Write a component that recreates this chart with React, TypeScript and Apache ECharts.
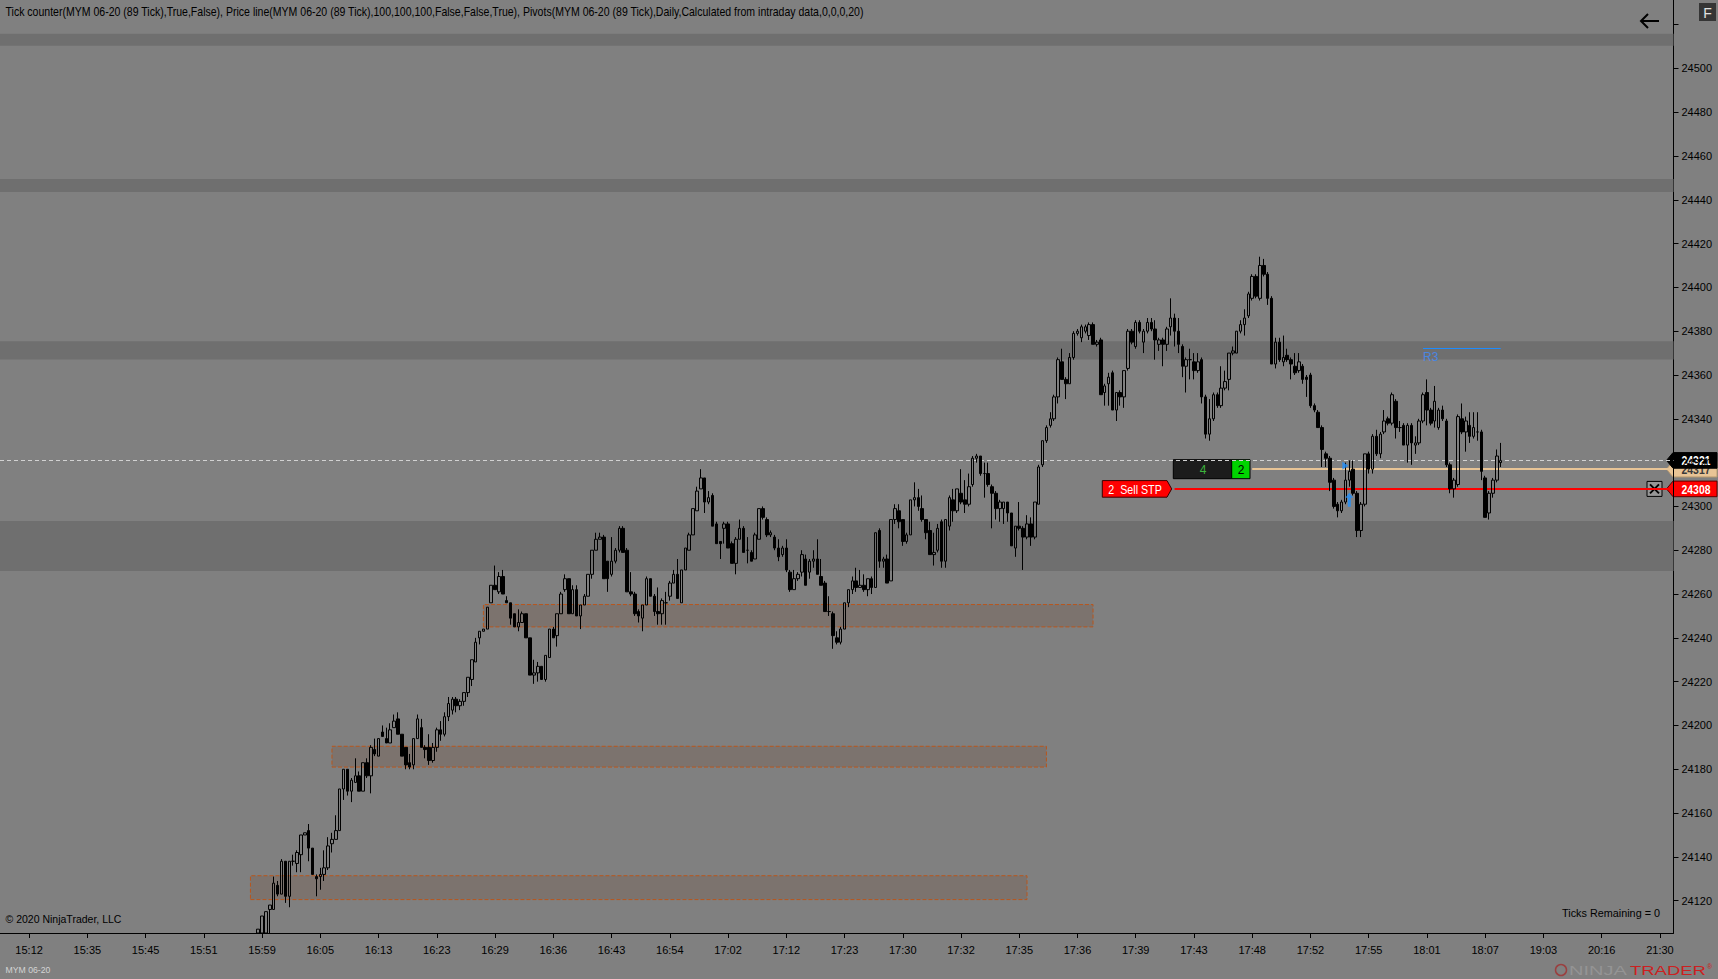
import { useEffect, useRef } from 'react';
import * as echarts from 'echarts';

const W = 1718;
const H = 979;
const FONT = '"Liberation Sans", Arial, sans-serif';

// x axis: one slot per 89-tick bar, a time label every 15 slots
const timeLabels = [
  '15:12', '15:35', '15:45', '15:51', '15:59', '16:05', '16:13', '16:23', '16:29', '16:36',
  '16:43', '16:54', '17:02', '17:12', '17:23', '17:30', '17:32', '17:35', '17:36', '17:39',
  '17:43', '17:48', '17:52', '17:55', '18:01', '18:07', '19:03', '20:16', '21:30',
];
const SLOT_COUNT = 431;
const FIRST_LABEL_SLOT = 7;
const LABEL_STEP = 15;
const FIRST_BAR_SLOT = 66;

const yTickLabels = [
  24120, 24140, 24160, 24180, 24200, 24220, 24240, 24260, 24280, 24300,
  24320, 24340, 24360, 24380, 24400, 24420, 24440, 24460, 24480, 24500,
];
const yTickMarks = [...yTickLabels, 24520];
const Y_MIN = 24105.25;
const Y_MAX = 24531.2;

// [open, close, low, high]
const bars: number[][] = [
  [24100, 24107, 24095, 24107], [24104, 24113, 24100, 24113], [24104, 24115, 24100, 24115], [24116, 24118, 24105, 24118],
  [24116, 24128, 24116, 24131], [24127, 24123, 24122, 24129], [24123, 24138, 24123, 24139], [24138, 24122, 24119, 24138],
  [24122, 24138, 24117, 24138], [24138, 24138, 24136, 24141], [24137, 24142, 24133, 24143], [24141, 24150, 24133, 24150],
  [24150, 24151, 24150, 24151], [24152, 24144, 24138, 24155], [24144, 24132, 24132, 24144], [24131, 24130, 24122, 24132],
  [24131, 24132, 24125, 24135], [24132, 24135, 24129, 24143], [24135, 24145, 24134, 24149], [24146, 24148, 24142, 24151],
  [24148, 24152, 24148, 24159], [24152, 24171, 24152, 24171], [24171, 24180, 24166, 24180], [24180, 24170, 24168, 24180],
  [24170, 24175, 24165, 24176], [24174, 24177, 24174, 24185], [24177, 24170, 24170, 24179], [24170, 24183, 24170, 24183],
  [24183, 24177, 24176, 24185], [24177, 24190, 24169, 24191], [24189, 24187, 24186, 24194], [24186, 24194, 24186, 24194],
  [24197, 24195, 24195, 24200], [24194, 24192, 24192, 24199], [24192, 24198, 24192, 24201], [24199, 24202, 24199, 24205],
  [24203, 24196, 24196, 24206], [24196, 24186, 24186, 24196], [24190, 24182, 24180, 24190], [24183, 24181, 24180, 24187],
  [24182, 24194, 24180, 24194], [24194, 24203, 24194, 24205], [24199, 24190, 24190, 24203], [24190, 24189, 24185, 24191],
  [24190, 24184, 24182, 24196], [24184, 24190, 24183, 24192], [24190, 24198, 24188, 24199], [24198, 24196, 24193, 24202],
  [24196, 24204, 24195, 24206], [24204, 24210, 24202, 24213],
  // 51
  [24207, 24212, 24205, 24213], [24212, 24209, 24206, 24213], [24209, 24211, 24207, 24212], [24211, 24215, 24209, 24215],
  [24215, 24222, 24213, 24222], [24221, 24230, 24218, 24230], [24229, 24238, 24229, 24240], [24240, 24243, 24237, 24243],
  [24243, 24244, 24243, 24244], [24244, 24254, 24244, 24254], [24256, 24264, 24256, 24264], [24264, 24262, 24262, 24273],
  [24261, 24268, 24260, 24270], [24268, 24260, 24260, 24271], [24257, 24256, 24256, 24259], [24256, 24249, 24246, 24256],
  [24251, 24245, 24245, 24251], [24245, 24247, 24243, 24253], [24247, 24251, 24247, 24252], [24251, 24240, 24240, 24251],
  [24240, 24223, 24223, 24240], [24223, 24224, 24219, 24230], [24224, 24227, 24220, 24229], [24227, 24221, 24221, 24227],
  [24221, 24232, 24220, 24232], [24231, 24244, 24231, 24244], [24244, 24240, 24240, 24245], [24241, 24251, 24236, 24251],
  [24251, 24260, 24251, 24261], [24262, 24267, 24261, 24269], [24267, 24251, 24251, 24267], [24251, 24262, 24251, 24264],
  [24262, 24250, 24250, 24264], [24250, 24255, 24244, 24255], [24255, 24259, 24255, 24260], [24259, 24269, 24259, 24269],
  [24269, 24280, 24267, 24280], [24280, 24285, 24280, 24288], [24285, 24286, 24285, 24288], [24286, 24267, 24267, 24287],
  [24275, 24267, 24261, 24275],
  // 92
  [24269, 24275, 24268, 24286], [24275, 24280, 24274, 24281], [24280, 24290, 24279, 24291], [24290, 24279, 24279, 24291],
  [24280, 24261, 24261, 24281], [24261, 24260, 24259, 24270], [24260, 24251, 24250, 24261], [24252, 24250, 24247, 24253],
  [24249, 24255, 24243, 24255], [24255, 24267, 24255, 24268], [24267, 24259, 24259, 24267], [24259, 24252, 24250, 24260],
  [24252, 24251, 24246, 24263], [24251, 24257, 24246, 24258], [24256, 24256, 24246, 24261], [24259, 24265, 24257, 24266],
  [24265, 24269, 24265, 24271], [24269, 24258, 24258, 24276], [24256, 24271, 24256, 24271], [24271, 24281, 24271, 24281],
  [24280, 24287, 24280, 24288], [24287, 24299, 24287, 24299], [24298, 24307, 24298, 24309], [24308, 24313, 24308, 24317],
  [24313, 24302, 24297, 24313], [24302, 24304, 24301, 24307], [24305, 24291, 24291, 24306], [24292, 24283, 24283, 24293],
  [24284, 24283, 24276, 24284], [24290, 24292, 24283, 24293], [24292, 24281, 24281, 24293], [24283, 24274, 24274, 24284],
  [24274, 24285, 24269, 24286], [24285, 24290, 24285, 24294], [24290, 24279, 24279, 24291], [24280, 24280, 24274, 24286],
  [24279, 24275, 24275, 24280], [24276, 24287, 24276, 24288], [24285, 24299, 24285, 24299], [24299, 24295, 24294, 24300],
  [24294, 24287, 24286, 24295], [24287, 24288, 24286, 24289], [24286, 24281, 24280, 24287], [24281, 24277, 24275, 24285],
  [24278, 24281, 24277, 24282], [24281, 24271, 24270, 24285], [24270, 24262, 24261, 24271],
  // 139
  [24262, 24267, 24262, 24271], [24267, 24269, 24266, 24270], [24270, 24278, 24268, 24280], [24276, 24264, 24264, 24278],
  [24270, 24275, 24267, 24276], [24275, 24276, 24272, 24280], [24276, 24269, 24269, 24285], [24268, 24264, 24264, 24276],
  [24265, 24252, 24252, 24266], [24252, 24252, 24250, 24259], [24251, 24241, 24235, 24252], [24240, 24238, 24237, 24243],
  [24238, 24244, 24237, 24245], [24244, 24256, 24244, 24256], [24256, 24262, 24254, 24262], [24262, 24266, 24260, 24268],
  [24266, 24263, 24261, 24272], [24263, 24264, 24263, 24271], [24264, 24262, 24261, 24269], [24262, 24267, 24259, 24267],
  [24267, 24263, 24260, 24268], [24263, 24288, 24263, 24288], [24289, 24275, 24272, 24290], [24275, 24276, 24272, 24277],
  [24276, 24265, 24265, 24278], [24266, 24294, 24266, 24294], [24294, 24299, 24292, 24301], [24298, 24293, 24290, 24301],
  [24294, 24284, 24282, 24294], [24284, 24287, 24283, 24288], [24287, 24303, 24287, 24303], [24303, 24304, 24300, 24311],
  [24304, 24300, 24298, 24308], [24299, 24294, 24293, 24305], [24294, 24288, 24285, 24294], [24289, 24278, 24278, 24293],
  [24278, 24279, 24273, 24288], [24280, 24290, 24279, 24292], [24293, 24275, 24272, 24294], [24275, 24294, 24272, 24294],
  [24291, 24304, 24289, 24305], [24303, 24298, 24293, 24308], [24298, 24308, 24297, 24308], [24306, 24302, 24301, 24317],
  [24303, 24301, 24297, 24312], [24301, 24309, 24300, 24315],
  // 185
  [24310, 24322, 24309, 24323], [24322, 24323, 24320, 24324], [24323, 24315, 24314, 24323], [24315, 24315, 24304, 24320],
  [24315, 24310, 24309, 24320], [24309, 24306, 24290, 24310], [24306, 24299, 24294, 24307], [24299, 24302, 24293, 24303],
  [24299, 24302, 24292, 24302], [24302, 24297, 24293, 24302], [24297, 24282, 24282, 24297], [24281, 24291, 24277, 24291],
  [24291, 24290, 24289, 24302], [24290, 24286, 24271, 24291], [24286, 24292, 24285, 24296], [24292, 24286, 24282, 24295],
  [24286, 24302, 24285, 24302], [24301, 24318, 24301, 24319], [24319, 24330, 24318, 24330], [24330, 24336, 24329, 24337],
  [24337, 24340, 24336, 24343], [24340, 24350, 24339, 24351], [24350, 24367, 24347, 24368], [24366, 24358, 24358, 24372],
  [24358, 24356, 24349, 24359], [24356, 24368, 24356, 24370], [24368, 24379, 24367, 24380], [24379, 24380, 24378, 24381],
  [24377, 24382, 24375, 24383], [24380, 24382, 24379, 24383], [24378, 24383, 24376, 24384], [24383, 24374, 24374, 24384],
  [24374, 24375, 24373, 24376], [24376, 24351, 24351, 24377], [24352, 24355, 24346, 24356], [24356, 24359, 24346, 24361],
  [24361, 24344, 24344, 24362], [24344, 24352, 24339, 24352], [24352, 24350, 24346, 24353], [24350, 24362, 24345, 24362],
  [24363, 24380, 24362, 24381], [24380, 24375, 24374, 24381], [24373, 24384, 24372, 24385], [24384, 24380, 24379, 24385],
  [24375, 24380, 24370, 24381], [24380, 24384, 24379, 24386], [24384, 24381, 24380, 24386],
  // 232
  [24381, 24376, 24367, 24385], [24374, 24376, 24371, 24377], [24376, 24374, 24364, 24377], [24374, 24381, 24371, 24382],
  [24382, 24386, 24378, 24395], [24386, 24380, 24373, 24388], [24380, 24374, 24370, 24386], [24373, 24364, 24359, 24374],
  [24364, 24367, 24352, 24368], [24367, 24367, 24358, 24372], [24366, 24362, 24358, 24370], [24362, 24366, 24361, 24370],
  [24367, 24350, 24347, 24368], [24350, 24333, 24331, 24351], [24333, 24340, 24330, 24349], [24340, 24351, 24339, 24352],
  [24351, 24346, 24345, 24352], [24346, 24354, 24345, 24364], [24354, 24357, 24353, 24362], [24358, 24370, 24353, 24370],
  [24370, 24371, 24369, 24373], [24370, 24380, 24370, 24380], [24380, 24383, 24379, 24385], [24383, 24386, 24378, 24390],
  [24387, 24397, 24386, 24398], [24395, 24405, 24394, 24406], [24405, 24396, 24395, 24406], [24395, 24410, 24394, 24414],
  [24410, 24406, 24405, 24413], [24406, 24395, 24392, 24407], [24395, 24365, 24365, 24396], [24365, 24375, 24363, 24377],
  [24375, 24367, 24366, 24377], [24366, 24368, 24364, 24378], [24369, 24367, 24366, 24372], [24367, 24365, 24358, 24368],
  [24364, 24361, 24360, 24370], [24362, 24366, 24361, 24370], [24364, 24358, 24356, 24365], [24359, 24358, 24350, 24360],
  [24360, 24346, 24345, 24361], [24346, 24344, 24343, 24347], [24343, 24336, 24336, 24344], [24336, 24326, 24318, 24337],
  [24324, 24322, 24318, 24325], [24322, 24311, 24307, 24323],
  // 278
  [24312, 24300, 24299, 24313], [24301, 24298, 24295, 24302], [24298, 24302, 24297, 24303], [24302, 24312, 24301, 24320],
  [24312, 24316, 24309, 24321], [24317, 24306, 24305, 24321], [24306, 24289, 24286, 24307], [24289, 24301, 24286, 24302],
  [24301, 24324, 24300, 24324], [24324, 24317, 24315, 24325], [24317, 24332, 24315, 24333], [24332, 24324, 24323, 24335],
  [24324, 24333, 24322, 24334], [24334, 24339, 24333, 24344], [24340, 24338, 24337, 24341], [24338, 24351, 24337, 24352],
  [24348, 24336, 24331, 24349], [24336, 24336, 24334, 24339], [24337, 24328, 24328, 24338], [24328, 24337, 24320, 24338],
  [24337, 24329, 24319, 24338], [24328, 24329, 24324, 24332], [24329, 24339, 24328, 24340], [24339, 24351, 24338, 24352],
  [24352, 24344, 24337, 24358], [24344, 24338, 24337, 24345], [24339, 24348, 24336, 24355], [24336, 24344, 24335, 24345],
  [24344, 24340, 24339, 24346], [24339, 24319, 24318, 24340], [24319, 24308, 24306, 24320], [24308, 24312, 24304, 24313],
  [24310, 24341, 24309, 24342], [24340, 24334, 24333, 24347], [24334, 24339, 24325, 24341], [24337, 24332, 24329, 24343],
  [24332, 24336, 24331, 24343], [24334, 24334, 24330, 24343], [24334, 24316, 24312, 24335], [24313, 24295, 24295, 24314],
  [24297, 24306, 24294, 24307], [24306, 24312, 24304, 24313], [24312, 24323, 24311, 24326], [24320, 24321, 24318, 24329],
];

// pivot bands [low, high]
const pivotBands = [
  [24510.3, 24515.8],
  [24443.5, 24449.5],
  [24367.1, 24375.4],
  [24270.5, 24293.3],
];

// dashed zones: slot range and price range
const zones = [
  { from: 64, to: 264, low: 24120.5, high: 24131.4 },
  { from: 85, to: 269, low: 24181, high: 24190.5 },
  { from: 124, to: 281, low: 24245, high: 24255.2 },
];

const r3 = { price: 24372, from: 366, to: 386 };
const lastPrice = 24321;
const entryPrice = 24317;
const stopPrice = 24308;
const entrySlot = 322;
const stopSlot = 302;

// execution marks: bar number (1-based) and price
const executions = [
  { bar: 281, price: 24318.6, kind: 'entry' },
  { bar: 282, price: 24303, kind: 'fill' },
];

const categories = Array.from({ length: SLOT_COUNT }, (_, i) => {
  const k = (i - FIRST_LABEL_SLOT) / LABEL_STEP;
  return i >= FIRST_LABEL_SLOT && Number.isInteger(k) && k < timeLabels.length ? timeLabels[k] : '';
});
const isLabelSlot = (i: number) => categories[i] !== '';

const measureCtx = typeof document !== 'undefined' ? document.createElement('canvas').getContext('2d') : null;
function fitScale(text: string, font: string, width: number) {
  if (!measureCtx) return 1;
  measureCtx.font = font;
  const w = measureCtx.measureText(text).width;
  return w > 0 ? width / w : 1;
}

function label(text: string, x: number, y: number, font: string, fill: string, align: string, width?: number) {
  return {
    type: 'text',
    x,
    y,
    scaleX: width ? fitScale(text, font, width) : 1,
    silent: true,
    style: { text, font, fill, textAlign: align, textVerticalAlign: 'middle', align, verticalAlign: 'middle' },
  };
}

function priceTag(cy: number, fill: string, stroke: string, text: string, color: string) {
  return [
    {
      type: 'polygon',
      silent: true,
      shape: { points: [[1666.5, cy], [1673, cy - 7.8], [1717, cy - 7.8], [1717, cy + 7.8], [1673, cy + 7.8]] },
      style: { fill, stroke, lineWidth: 1 },
    },
    label(text, 1696, cy + 0.5, `bold 12px ${FONT}`, color, 'center', 29),
  ];
}

// the chart bottom cuts the first bars off, as the platform does
const clampY = (v: number) => Math.min(Y_MAX, Math.max(Y_MIN, v));

function buildOption() {
  const candleData = bars.map((b, i) => [
    FIRST_BAR_SLOT + i,
    clampY(b[0]),
    clampY(b[1]),
    clampY(Math.min(b[2], b[0], b[1])),
    clampY(Math.max(b[3], b[0], b[1])),
  ]);

  return {
    animation: false,
    backgroundColor: '#808080',
    grid: { left: 0, right: 44.5, top: 0, bottom: 46 },
    xAxis: {
      type: 'category',
      data: categories,
      boundaryGap: true,
      axisLine: { show: true, lineStyle: { color: '#000', width: 1 } },
      axisTick: { show: true, interval: (i: number) => isLabelSlot(i), alignWithLabel: true, length: 5, lineStyle: { color: '#000' } },
      axisLabel: { interval: (i: number) => isLabelSlot(i), color: '#000', fontSize: 11, fontFamily: FONT, margin: 11 },
      splitLine: { show: false },
    },
    yAxis: {
      type: 'value',
      position: 'right',
      min: Y_MIN,
      max: Y_MAX,
      axisLine: { show: true, lineStyle: { color: '#000', width: 1 } },
      axisTick: { show: true, length: 5, customValues: yTickMarks, lineStyle: { color: '#000' } },
      axisLabel: {
        customValues: yTickLabels,
        color: '#000',
        fontSize: 11,
        fontFamily: FONT,
        margin: 8,
        formatter: (v: number) => String(Math.round(v)),
      },
      splitLine: { show: false },
    },
    series: [
      {
        type: 'line',
        data: [],
        z: 1,
        silent: true,
        markArea: {
          silent: true,
          data: [
            ...pivotBands.map(([lo, hi]) => [
              { yAxis: lo, itemStyle: { color: '#6f6f6f', borderWidth: 0 } },
              { yAxis: hi },
            ]),
            ...zones.map((z) => [
              {
                coord: [z.from, z.low],
                itemStyle: { color: 'rgba(110, 70, 45, 0.22)', borderColor: '#b8561c', borderWidth: 1, borderType: 'dashed' },
              },
              { coord: [z.to, z.high] },
            ]),
          ],
        },
        markLine: {
          silent: true,
          symbol: ['none', 'none'],
          data: [
            {
              yAxis: lastPrice,
              label: { show: false },
              lineStyle: { color: '#d2d2d2', width: 1, type: [4, 3] },
            },
          ],
        },
      },
      {
        type: 'candlestick',
        z: 5,
        clip: true,
        barWidth: 3,
        encode: { x: 0, y: [1, 2, 3, 4] },
        data: candleData,
        itemStyle: {
          color: 'rgba(0,0,0,0)',
          color0: '#000',
          borderColor: '#000',
          borderColor0: '#000',
          borderWidth: 1,
        },
      },
      {
        type: 'line',
        data: [],
        z: 6,
        silent: true,
        markLine: {
          silent: true,
          symbol: ['none', 'none'],
          data: [
            [
              {
                coord: [r3.from, r3.price],
                lineStyle: { color: '#1e8cff', width: 1, type: 'solid' },
                label: {
                  show: true,
                  position: 'insideStartBottom',
                  formatter: 'R3',
                  color: '#4a86e0',
                  fontSize: 12,
                  fontFamily: FONT,
                  distance: [0, 2],
                },
              },
              { coord: [r3.to, r3.price] },
            ],
            [
              { coord: [entrySlot, entryPrice], lineStyle: { color: '#e8c496', width: 2, type: 'solid' }, label: { show: false } },
              { coord: [SLOT_COUNT - 1, entryPrice] },
            ],
            [
              { coord: [stopSlot, stopPrice], lineStyle: { color: '#ff0000', width: 2, type: 'solid' }, label: { show: false } },
              { coord: [SLOT_COUNT - 1, stopPrice] },
            ],
          ],
        },
      },
      {
        type: 'scatter',
        z: 7,
        silent: true,
        data: executions
          .filter((e) => e.kind === 'fill')
          .map((e) => [FIRST_BAR_SLOT + e.bar - 1, e.price]),
        symbol: 'path://M4,0 L8,5 L5.5,5 L5.5,14 L2.5,14 L2.5,5 L0,5 Z',
        symbolSize: [8, 14],
        itemStyle: { color: '#1e90ff' },
      },
      {
        type: 'scatter',
        z: 7,
        silent: true,
        data: executions
          .filter((e) => e.kind === 'entry')
          .map((e) => [FIRST_BAR_SLOT + e.bar - 1 - 0.3, e.price]),
        symbol: 'triangle',
        symbolRotate: -90,
        symbolSize: [8, 6],
        itemStyle: { color: '#1e90ff' },
      },
    ],
  };
}

function buildOverlay(py: (p: number) => number) {
  const yLast = py(lastPrice);
  const yEntry = py(entryPrice);
  const yStop = py(stopPrice);
  const title =
    'Tick counter(MYM 06-20 (89 Tick),True,False), Price line(MYM 06-20 (89 Tick),100,100,100,False,False,True), Pivots(MYM 06-20 (89 Tick),Daily,Calculated from intraday data,0,0,0,20)';

  return [
    label(title, 5.5, 11.5, `12px ${FONT}`, '#000', 'left', 860),
    label('\u00a9 2020 NinjaTrader, LLC', 5.5, 919, `11px ${FONT}`, '#000', 'left', 116),
    label('Ticks Remaining = 0', 1660, 913, `11px ${FONT}`, '#000', 'right', 98),
    label('MYM 06-20', 5.5, 970, `9px ${FONT}`, '#d4d4d4', 'left', 45),

    // back arrow and F box in the top-right corner
    { type: 'line', silent: true, shape: { x1: 1641, y1: 21, x2: 1659, y2: 21 }, style: { stroke: '#000', lineWidth: 2 } },
    { type: 'polyline', silent: true, shape: { points: [[1648, 14], [1641, 21], [1648, 28]] }, style: { stroke: '#000', lineWidth: 2, fill: null } },
    { type: 'rect', silent: true, shape: { x: 1699, y: 3, width: 17, height: 18 }, style: { fill: '#353535' } },
    label('F', 1707.5, 12.5, `14px ${FONT}`, '#e0e0e0', 'center'),

    // position widget on the entry line
    { type: 'rect', silent: true, shape: { x: 1173.3, y: yEntry - 9.5, width: 58.4, height: 19 }, style: { fill: '#1c1c1c', stroke: '#000', lineWidth: 1 } },
    { type: 'rect', silent: true, shape: { x: 1231.7, y: yEntry - 9.5, width: 18.3, height: 19 }, style: { fill: '#00d400', stroke: '#000', lineWidth: 1 } },
    label('4', 1203, yEntry + 0.5, `12px ${FONT}`, '#3cb43c', 'center'),
    label('2', 1241, yEntry + 0.5, `12px ${FONT}`, '#000', 'center'),

    // stop order flag
    {
      type: 'polygon',
      silent: true,
      shape: { points: [[1102.3, yStop - 8.3], [1167, yStop - 8.3], [1171.7, yStop], [1167, yStop + 8.3], [1102.3, yStop + 8.3]] },
      style: { fill: '#ff0000', stroke: '#3a0000', lineWidth: 1 },
    },
    label('2  Sell STP', 1108.3, yStop + 0.5, `12px ${FONT}`, '#fff', 'left', 53.5),

    // cancel button
    { type: 'rect', silent: true, shape: { x: 1647, y: yStop - 7.5, width: 15, height: 15 }, style: { fill: '#969696', stroke: '#000', lineWidth: 1 } },
    { type: 'line', silent: true, shape: { x1: 1650, y1: yStop - 4.5, x2: 1659, y2: yStop + 4.5 }, style: { stroke: '#000', lineWidth: 2 } },
    { type: 'line', silent: true, shape: { x1: 1659, y1: yStop - 4.5, x2: 1650, y2: yStop + 4.5 }, style: { stroke: '#000', lineWidth: 2 } },

    // right-axis price tags
    ...priceTag(yEntry, '#e8c496', '#b89a70', String(entryPrice), '#3a3a3a'),
    ...priceTag(yLast, '#000', '#000', String(lastPrice), '#fff'),
    ...priceTag(yStop, '#ff0000', '#5a0000', String(stopPrice), '#fff'),

    // NinjaTrader logo
    { type: 'circle', silent: true, shape: { cx: 1561, cy: 970, r: 5.5 }, style: { fill: null, stroke: '#9a4040', lineWidth: 1.5 } },
    label('NINJA', 1569, 970.5, `13px ${FONT}`, '#949494', 'left', 58),
    label('TRADER', 1630, 970.5, `13px ${FONT}`, '#cc2020', 'left', 76),
    label('\u00ae', 1707, 966, `7px ${FONT}`, '#cc2020', 'left'),
  ];
}

export default function App() {
  const chartRef = useRef<HTMLDivElement | null>(null);

  useEffect(() => {
    if (!chartRef.current) return;
    document.body.style.margin = '0';
    const chart = echarts.init(chartRef.current, null, { renderer: 'svg' });
    chart.setOption(buildOption() as any);
    const py = (p: number) => chart.convertToPixel({ yAxisIndex: 0 }, p) as number;
    chart.setOption({ graphic: { elements: buildOverlay(py) } } as any);

    return () => {
      chart.dispose();
    };
  }, []);

  return (
    <div
      ref={chartRef}
      style={{ position: 'fixed', left: 0, top: 0, width: W, height: H, background: '#808080' }}
    />
  );
}
